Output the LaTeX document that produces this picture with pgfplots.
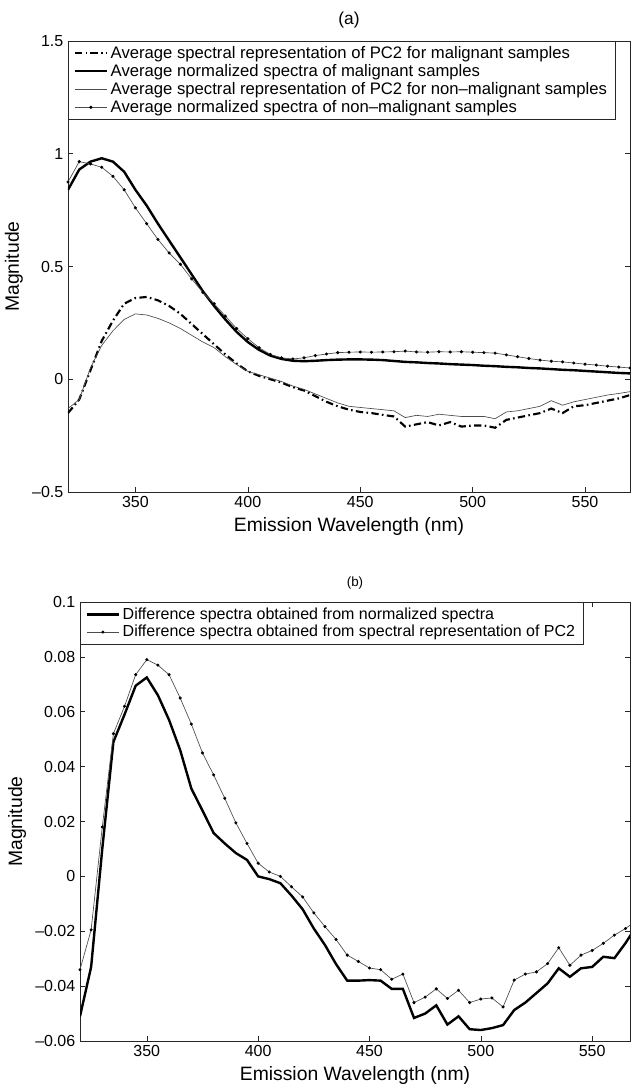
\documentclass[border=0pt]{standalone}
\usepackage{fontspec}
\setmainfont{Liberation Sans}
\usepackage{pgfplots}
\usepackage{pgfplotstable}
\pgfplotsset{compat=1.18}

% panel (a): wavelength, PC2 malignant, normalized malignant, PC2 non-malignant, normalized non-malignant
\pgfplotstableread{
nm   pcm     nrm     pcn     nrn
320  -0.150  0.840  -0.130  0.875
325  -0.090  0.930  -0.090  0.965
330   0.040  0.965   0.050  0.955
335   0.170  0.980   0.150  0.940
340   0.260  0.965   0.215  0.900
345   0.335  0.920   0.265  0.840
350   0.360  0.840   0.290  0.760
355   0.365  0.770   0.285  0.690
360   0.350  0.690   0.270  0.620
365   0.325  0.615   0.250  0.560
370   0.290  0.540   0.225  0.510
375   0.245  0.465   0.195  0.445
380   0.200  0.390   0.165  0.385
385   0.155  0.325   0.140  0.335
390   0.110  0.265   0.100  0.280
395   0.070  0.210   0.065  0.225
400   0.035  0.165   0.035  0.180
405   0.015  0.130   0.020  0.140
410   0.000  0.105   0.005  0.110
415  -0.015  0.090  -0.010  0.095
420  -0.035  0.082  -0.030  0.090
425  -0.050  0.080  -0.045  0.095
430  -0.075  0.082  -0.065  0.105
435  -0.100  0.085  -0.085  0.112
440  -0.120  0.087  -0.105  0.118
445  -0.135  0.088  -0.120  0.120
450  -0.145  0.088  -0.125  0.121
455  -0.150  0.087  -0.130  0.120
460  -0.158  0.085  -0.135  0.121
465  -0.165  0.081  -0.140  0.122
470  -0.210  0.077  -0.170  0.125
475  -0.200  0.075  -0.160  0.121
480  -0.190  0.072  -0.165  0.120
485  -0.205  0.070  -0.155  0.122
490  -0.190  0.067  -0.160  0.121
495  -0.210  0.065  -0.165  0.122
500  -0.205  0.063  -0.165  0.120
505  -0.205  0.060  -0.165  0.118
510  -0.215  0.058  -0.175  0.116
515  -0.180  0.055  -0.145  0.108
520  -0.170  0.053  -0.140  0.100
525  -0.160  0.050  -0.130  0.092
530  -0.150  0.048  -0.120  0.085
535  -0.130  0.045  -0.095  0.080
540  -0.150  0.042  -0.115  0.077
545  -0.120  0.040  -0.100  0.072
550  -0.115  0.037  -0.090  0.067
555  -0.105  0.034  -0.080  0.063
560  -0.095  0.031  -0.070  0.058
565  -0.085  0.028  -0.063  0.054
570  -0.070  0.026  -0.055  0.050
}\tablea

% panel (b): wavelength, difference of normalized spectra, difference of PC2 representation
\pgfplotstableread{
nm   dnorm    dpc
320  -0.0510  -0.0340
325  -0.0330  -0.0195
330   0.0100   0.0180
335   0.0490   0.0520
340   0.0590   0.0620
345   0.0695   0.0735
350   0.0725   0.0790
355   0.0660   0.0770
360   0.0570   0.0735
365   0.0460   0.0650
370   0.0320   0.0555
375   0.0240   0.0450
380   0.0158   0.0370
385   0.0120   0.0285
390   0.0085   0.0195
395   0.0060   0.0120
400   0.0000   0.0048
405  -0.0010   0.0016
410  -0.0025   0.0000
415  -0.0070  -0.0038
420  -0.0120  -0.0075
425  -0.0190  -0.0133
430  -0.0250  -0.0183
435  -0.0320  -0.0230
440  -0.0380  -0.0287
445  -0.0380  -0.0310
450  -0.0378  -0.0334
455  -0.0380  -0.0340
460  -0.0410  -0.0375
465  -0.0410  -0.0356
470  -0.0516  -0.0460
475  -0.0500  -0.0440
480  -0.0470  -0.0410
485  -0.0540  -0.0445
490  -0.0510  -0.0415
495  -0.0557  -0.0460
500  -0.0560  -0.0447
505  -0.0553  -0.0443
510  -0.0542  -0.0476
515  -0.0487  -0.0378
520  -0.0460  -0.0356
525  -0.0425  -0.0348
530  -0.0390  -0.0318
535  -0.0335  -0.0260
540  -0.0366  -0.0324
545  -0.0335  -0.0287
550  -0.0330  -0.0270
555  -0.0293  -0.0244
560  -0.0298  -0.0214
565  -0.0243  -0.0190
570  -0.0180  -0.0160
}\tableb

\pgfplotsset{
  mlab/.style={
    scale only axis,
    anchor=north west,
    axis line style={black!85, line width=0.5pt},
    tick align=inside,
    tick pos=both,
    major tick length=4pt,
    tick style={black!85, line width=0.4pt},
    ticklabel style={font=\fontsize{12}{14}\selectfont},
    label style={font=\fontsize{14.5}{17}\selectfont},
    xlabel={Emission Wavelength (nm)},
    ylabel={Magnitude},
    xtick={350,400,450,500,550},
    xticklabels={350,400,450,500,550},
    legend cell align=left,
    legend image code/.code={%
      \draw[mark repeat=2, mark phase=2, #1]
        plot coordinates {(0pt,0pt) (12pt,0pt) (24pt,0pt)};},
    legend style={at={(0,1)}, anchor=north west, draw=black!85, line width=0.5pt,
      font=\fontsize{12.5}{14.5}\selectfont, inner xsep=4pt, inner ysep=1.5pt,
      row sep=-1pt, fill=white},
  },
}

\begin{document}
\begin{tikzpicture}
\begin{axis}[mlab,
    at={(51pt,-30.75pt)},
    width=421.5pt, height=338.25pt,
    xmin=320, xmax=570, ymin=-0.5, ymax=1.5,
    ytick={-0.5,0,0.5,1,1.5},
    yticklabels={\textendash0.5,0,0.5,1,1.5},
    title={(a)},
    title style={font=\fontsize{13}{15}\selectfont},
]
\addplot[black, line width=1.6pt, dash pattern=on 5.5pt off 2.5pt on 1.2pt off 2.5pt]
  table[x=nm, y=pcm] {\tablea};
\addlegendentry{Average spectral representation of PC2 for malignant samples}
\addplot[black, line width=1.8pt] table[x=nm, y=nrm] {\tablea};
\addlegendentry{Average normalized spectra of malignant samples}
\addplot[black!70, line width=0.5pt] table[x=nm, y=pcn] {\tablea};
\addlegendentry{Average spectral representation of PC2 for non--malignant samples}
\addplot[black!70, line width=0.5pt, mark=*, mark size=0.9pt, mark options={black}]
  table[x=nm, y=nrn] {\tablea};
\addlegendentry{Average normalized spectra of non--malignant samples}
\end{axis}

\begin{axis}[mlab,
    at={(60pt,-451.5pt)},
    width=412.5pt, height=329.25pt,
    xmin=320, xmax=567, ymin=-0.06, ymax=0.1,
    ytick={-0.06,-0.04,-0.02,0,0.02,0.04,0.06,0.08,0.1},
    yticklabels={\textendash0.06,\textendash0.04,\textendash0.02,0,0.02,0.04,0.06,0.08,0.1},
    title={(b)},
    title style={font=\fontsize{10}{12}\selectfont},
    legend style={font=\fontsize{12}{15}\selectfont, inner ysep=2pt},
]
\addplot[black, line width=1.8pt] table[x=nm, y=dnorm] {\tableb};
\addlegendentry{Difference spectra obtained from normalized spectra}
\addplot[black!70, line width=0.5pt, mark=*, mark size=0.9pt, mark options={black}]
  table[x=nm, y=dpc] {\tableb};
\addlegendentry{Difference spectra obtained from spectral representation of PC2}
\end{axis}

\pgfresetboundingbox
\path (0pt,0pt) rectangle (473.25pt,-813.75pt);
\end{tikzpicture}
\end{document}
